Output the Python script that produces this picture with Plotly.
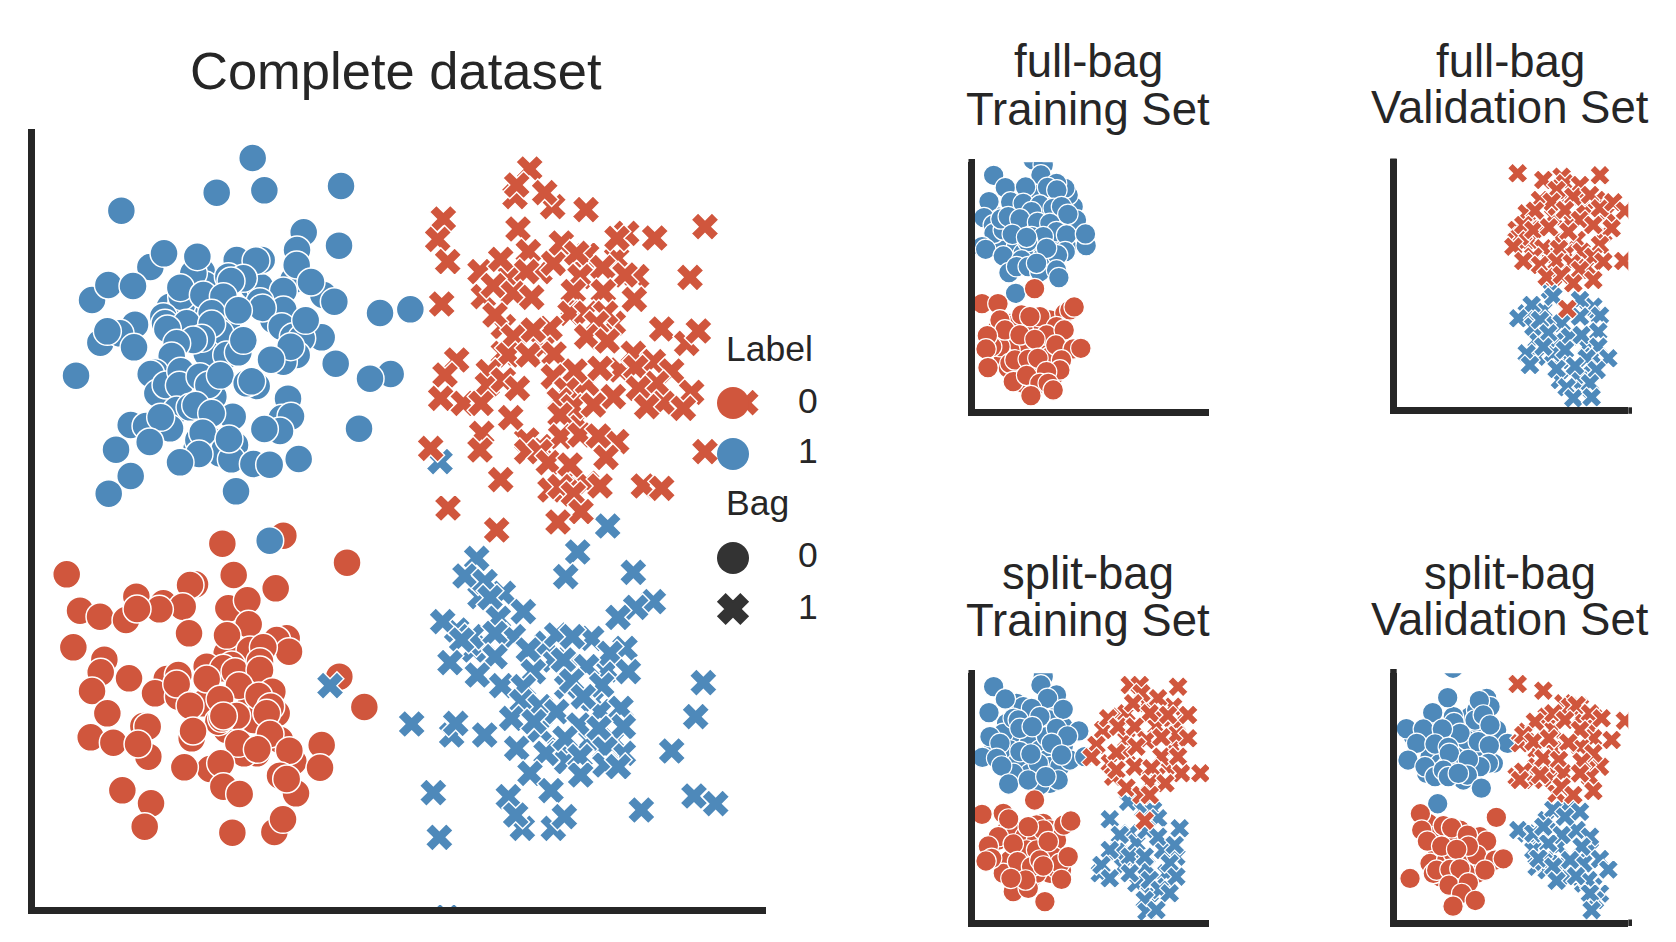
import plotly.graph_objects as go

WIDTH, HEIGHT = 1676, 942
RED, BLUE, DARK, SPINE, INK = "#D0563D", "#4E89BA", "#333333", "#262626", "#262626"

# Complete dataset, (feature 1, feature 2) per group; earlier rows are drawn underneath
main_blue_bag0 = [(600,500),(560,560),(620,620),(500,640),(600,640),(700,500),(760,600),(450,560),(720,500),(560,700),(480,850),(580,830),(570,960),(600,1000),
    (698,114),(590,218),(733,211),(963,198),(304,272),(851,337),(957,377),(831,390),
    (391,441),(432,400),(650,420),(725,420),(708,422),(545,455),(555,495),(520,460),(532,410),
    (216,540),(265,495),(339,498),(485,555),(485,530),(481,503),(625,470),(670,475),(633,483),
    (820,480),(830,435),(910,525),(873,486),(790,513),(943,545),(1080,579),(1171,568),
    (550,525),(610,530),(720,545),(790,570),(575,580),(727,564),(655,571),(430,590),(435,610),(500,610),(442,627),(575,612),
    (345,614),(241,668),(300,640),(262,634),(342,682),
    (785,620),(905,652),(820,650),(845,655),(857,601),(830,705),(790,725),(812,680),(753,719),
    (545,655),(520,660),(620,705),(655,697),(670,661),(470,670),(455,708),
    (168,767),(947,731),(1112,762),(1050,776),(405,758),(392,762),(412,820),(438,795),(482,754),(478,796),
    (540,770),(565,795),(601,766),(710,798),(680,790),(695,784),(804,836),(785,895),(813,889),(780,933),(733,927),(1017,926),
    (470,870),(510,862),(527,856),(638,890),(575,880),(332,915),(450,925),(378,918),(422,892),(389,966),(288,989),
    (530,985),(535,960),(548,938),(537,1002),(645,975),(634,1018),(627,957),(700,1032),(749,1034),(836,1017),(480,1027),(332,1068),(266,1121),(648,1114)]
main_red_bag0 = [(620,1600),(680,1640),(690,1760),(550,1750),(620,1830),(700,1800),(770,1780),(710,1900),(560,1640),(780,1860),
    (790,1247),(607,1271),(981,1328),(140,1363),(525,1393),(510,1395),(641,1365),(767,1405),
    (349,1430),(430,1450),(488,1460),(625,1465),(682,1441),(180,1472),(240,1490),(318,1500),(418,1468),(351,1467),
    (507,1540),(686,1513),(621,1546),(800,1555),(770,1560),(160,1582),(690,1590),(807,1595),(730,1582),
    (253,1619),(242,1657),(327,1675),(216,1713),(440,1677),(475,1665),(405,1720),(475,1730),(470,1692),(635,1635),(610,1645),(645,1655),(560,1677),(720,1625),(720,1650),(657,1697),(757,1715),(716,1728),(510,1757),(600,1738),
    (262,1780),(650,1788),(595,1805),(605,1795),(610,1788),(752,1760),(740,1780),(370,1818),(383,1820),(385,1910),(212,1852),(280,1868),(354,1872),(515,1855),(519,1833),
    (750,1842),(672,1900),(655,1870),(712,1888),(820,1925),(808,1892),(905,1875),(900,1943),(780,1967),(828,2020),(800,1977),(570,1947),(493,1942),(602,1930),(610,2000),(659,2022),
    (307,2011),(393,2050),(374,2120),(637,2138),(763,2136),(789,2098),
    (958,1670),(1033,1761)]
main_blue_extra = [(749,1262)]
main_blue_bag1 = [(1310,1530),(1360,1590),(1390,1570),(1650,1640),(1760,1650),(1600,1620),(1720,1740),(1740,1775),(1640,1700),(1560,1830),(1710,1860),(1620,1890),(1640,1925),(1780,1860),(1450,1420),(1380,1430),
    (1763,1218),(1673,1296),(1370,1315),(1637,1370),(1840,1357),(1335,1368),(1395,1385),(1410,1433),
    (1900,1445),(1847,1462),(1794,1492),(1435,1495),(1510,1475),(1268,1505),(1355,1550),(1325,1560),(1480,1550),(1425,1540),
    (1580,1570),(1525,1590),(1610,1545),(1715,1555),(1657,1550),(1815,1585),(1770,1600),(1425,1610),(1630,1620),(1290,1628),
    (1372,1665),(1540,1655),(1825,1655),(1700,1640),(1445,1697),(1655,1683),(1745,1695),(1510,1700),(1505,1745),(1560,1760),
    (1690,1730),(1610,1775),(1803,1765),(2050,1688),(2027,1790),(1475,1795),(1542,1805),(1677,1815),(1810,1820),(1737,1825),
    (1175,1812),(1295,1845),(1307,1810),(1394,1845),(1490,1885),(1578,1900),(1635,1855),(1680,1910),(1810,1900),(1755,1887),
    (1955,1893),(1755,1935),(1795,1940),(1530,1960),(1682,1965),(1593,2012),(1240,2018),(1465,2030),(1507,2125),(1487,2085),
    (1600,2125),(1633,2090),(1864,2070),(2022,2028),(2087,2051),(1258,2152),(1281,2391),(930,1697),(1260,1025)]
main_red_bag1 = [(1380,455),(1470,470),(1560,455),(1790,415),(1850,470),(1660,560),(1780,610),(1450,620),(1450,700),(1570,680),(1800,750),(1700,790),(1780,830),(1670,900),(1560,980),(1520,960),(1650,1080),(1700,1090),
    (1485,230),(1529,147),(1490,195),(1598,260),(1574,218),(1698,269),(2055,320),(1270,297),(1253,358),(1283,425),(1494,327),
    (1820,340),(1791,355),(1904,354),(1600,430),(1624,369),(1525,395),(1442,418),(1700,405),(1670,400),(1815,465),(1748,443),(1520,455),(1680,470),(2010,472),
    (1390,530),(1420,497),(1480,520),(1535,532),(1660,515),(1750,515),(1843,538),(1265,552),(1425,585),
    (1650,580),(1700,580),(1757,580),(1730,610),(1925,627),(2000,670),(2035,633),(1480,650),(1590,625),(1540,630),(1700,650),(1762,663),(1840,700),
    (1465,705),(1525,705),(1602,702),(1310,720),(1275,765),(1405,755),(1402,795),(1665,753),(1740,745),(1900,725),(1847,743),(1955,753),(1600,770),
    (1450,780),(1492,805),(1262,835),(1330,850),(1383,850),(1640,810),(1618,840),(1660,860),(1720,855),(1910,790),(1855,805),(2015,817),(1930,850),(1880,860),(1990,865),(1472,893),
    (1620,885),(1385,940),(1380,990),(1622,950),(1680,945),(1790,965),(1735,948),(1758,1012),(1232,985),(2055,995),(1520,995),(1560,995),(1585,1028),(1650,1035),(1442,1079),(1740,1098),(1590,1110),(1620,1100),(1660,1122),(1870,1098),(1925,1105),(1284,1164),(1683,1175),(1614,1206),(1430,1230),(2177,848)]

# full-bag training set: only bag 0
full_train_blue = [(200,140),(260,140),(300,140),(340,170),(160,190),(210,225),(250,200),(300,220),(340,240),(110,200),(130,280),(170,290),(230,280),(280,280),(320,290),(190,310),(250,320),(150,340),(270,340),(220,130),
    (220,30),(250,45),(243,75),(101,76),(136,113),(197,111),(325,135),(315,115),(290,100),(263,112),(291,120),(87,155),(152,156),(190,160),(240,165),(280,175),(305,170),(215,185),(72,203),(100,225),(102,250),(130,240),(123,207),(145,200),(180,207),(233,217),(350,210),(324,193),(157,253),(270,220),(290,245),(320,255),(379,287),(377,252),(215,260),(250,260),(203,275),(200,262),(66,290),(77,298),(316,305),(293,315),(260,295),(130,318),(185,330),(147,368),(170,350),(205,350),(240,365),(230,340),(290,360),(297,383),(167,430)]
full_train_red = [(150,520),(220,530),(270,510),(110,540),(200,600),(250,600),(150,600),(270,620),(230,660),(190,650),(130,620),(250,530),(170,520),(120,590),(280,680),(190,700),
    (224,416),(66,461),(114,461),(315,490),(330,480),(343,471),(120,510),(240,500),(185,495),(210,500),(290,530),(135,540),(180,555),(260,555),(313,540),(95,590),(82,557),(78,597),(288,585),(225,568),(340,597),(363,595),(305,630),(145,655),(150,640),(165,630),(205,628),(234,625),(84,653),(160,695),(300,660),(260,665),(200,676),(240,700),(265,700),(280,720),(213,737)]

# full-bag validation set: only bag 1
full_val_blue = [(490,480),(560,480),(620,480),(520,520),(470,570),(530,570),(620,590),(470,620),(540,630),(640,620),(610,670),(600,690),(540,690),(440,490),(640,470),
    (510,420),(520,440),(600,450),(455,465),(660,497),(415,505),(460,530),(480,510),(545,520),(600,500),(505,550),(570,560),(605,555),(655,545),(520,610),(490,590),(555,600),(655,590),(440,610),(620,625),(685,625),(450,645),(530,657),(585,648),(650,660),(605,720),(630,700),(560,712),(580,745),(635,742)]
full_val_red = [(480,150),(540,150),(610,170),(520,200),(650,150),(570,210),(450,270),(540,265),(590,270),(500,320),(560,310),(620,350),(470,225),(430,280),(680,190),(600,140),(520,380),(670,250),(530,170),(440,190),
    (413,70),(490,90),(660,76),(545,80),(555,100),(600,105),(530,120),(580,140),(630,135),(515,155),(660,175),(700,157),(735,182),(465,182),(555,180),(600,210),(410,240),(420,260),(430,225),(460,240),(507,232),(640,225),(565,245),(695,235),(400,290),(660,285),(490,295),(537,297),(605,305),(460,320),(640,320),(430,333),(480,345),(530,335),(575,340),(670,335),(730,333),(600,360),(500,380),(545,375),(640,390),(580,400),(562,477)]

# split-bag training set
split_train_blue0 = [(170,130),(190,140),(260,150),(290,130),(140,190),(270,180),(240,210),(200,240),(150,230),(130,220),(310,200),(310,260),(150,270),(240,270),(290,280),(260,300),(200,310),(170,310),(270,320),(300,320),(210,340),(160,340),(270,370),(100,270),(330,300),(260,230),
    (250,50),(243,75),(101,80),(290,105),(136,117),(263,115),(87,158),(310,148),(215,145),(240,170),(160,175),(175,180),(357,213),(90,230),(290,205),(323,228),(180,205),(217,200),(120,250),(275,250),(67,292),(110,295),(305,285),(125,318),(235,310),(180,275),(213,282),(146,372),(295,360),(240,375),(205,360),(258,350),(375,290)]
split_train_red0 = [(140,510),(170,510),(250,490),(270,510),(195,530),(230,540),(290,540),(115,540),(200,570),(260,590),(230,570),(150,600),(280,590),(190,620),(270,640),(220,650),(130,640),(305,630),(180,680),(230,640),
    (224,420),(66,463),(130,460),(146,477),(312,495),(333,483),(115,530),(230,495),(250,510),(205,500),(265,545),(160,552),(85,558),(95,595),(78,603),(290,625),(300,610),(325,590),(173,605),(215,620),(240,600),(250,618),(305,658),(160,695),(205,685),(197,660),(153,655),(255,725)]
split_train_blue1 = [(510,520),(480,580),(530,550),(610,570),(650,590),(620,640),(540,600),(490,620),(420,640),(560,620),(530,670),(620,680),(570,700),
    (505,425),(450,478),(550,450),(580,450),(595,475),(660,505),(560,510),(595,530),(645,555),(480,525),(470,575),(450,570),(510,590),(555,590),(425,615),(630,610),(510,640),(570,660),(650,650),(450,655),(600,690),(630,700),(555,720),(560,755),(590,750)]
split_train_red1 = [(480,170),(560,130),(610,180),(500,160),(640,140),(590,200),(430,210),(500,240),(640,260),(500,280),(450,310),(620,320),(460,350),(590,350),(650,190),
    (510,75),(540,75),(545,100),(655,80),(595,115),(520,130),(570,160),(625,165),(685,165),(445,175),(475,200),(525,200),(650,225),(560,240),(605,232),(685,235),(530,260),(410,255),(395,292),(470,278),(605,290),(655,290),(525,320),(470,330),(575,325),(665,340),(722,340),(570,370),(500,383),(617,370),(545,405),(570,405),(555,482)]

# split-bag validation set
split_val_blue0 = [(100,230),(120,240),(140,230),(160,220),(240,190),(280,200),(300,215),(340,225),(150,290),(180,310),(220,300),(250,260),(280,270),(300,290),(340,310),(240,310),(200,320),(170,340),(250,360),(270,170),(290,150),(220,170),(140,340),(260,240),(150,200),
    (219,25),(203,113),(320,115),(330,140),(298,122),(158,158),(285,180),(310,165),(222,188),(79,206),(130,207),(350,210),(240,220),(187,207),(330,195),(110,250),(165,252),(295,245),(383,250),(328,257),(205,262),(208,280),(84,300),(325,310),(300,320),(265,298),(135,320),(165,350),(190,330),(205,350),(262,345),(235,340),(304,384),(173,431)]
split_val_red0 = [(145,490),(240,510),(280,530),(160,530),(300,530),(210,530),(250,570),(170,590),(270,610),(290,640),(150,610),(240,660),(260,640),(310,610),(200,600),(180,650),(220,580),
    (121,461),(349,472),(125,510),(190,497),(215,503),(262,525),(142,543),(320,543),(185,558),(290,585),(265,558),(230,568),(345,600),(370,596),(90,655),(160,640),(170,630),(315,630),(210,628),(240,626),(207,675),(265,668),(245,700),(219,738),(286,721)]
split_val_blue1 = [(500,480),(565,450),(590,510),(480,540),(440,520),(535,560),(630,570),(460,570),(470,620),(540,610),(580,630),(610,610),(500,630),(570,650),(610,670),(640,680),(660,700),
    (520,448),(600,455),(555,470),(415,510),(460,520),(490,500),(545,525),(630,530),(505,550),(605,560),(490,605),(475,595),(570,600),(660,597),(520,620),(685,628),(530,662),(625,660),(588,648),(645,720),(630,700),(635,750)]
split_val_red1 = [(550,130),(600,140),(500,170),(600,175),(640,170),(520,210),(630,210),(440,215),(420,250),(640,235),(520,270),(600,260),(470,270),(660,320),(510,330),(620,330),(630,350),(520,360),(410,350),(460,360),(530,400),(470,320),
    (413,72),(490,92),(570,140),(590,135),(630,160),(520,160),(465,185),(665,175),(735,182),(555,180),(600,210),(430,225),(460,245),(507,235),(565,248),(695,240),(640,280),(490,295),(537,300),(605,305),(430,335),(420,360),(480,345),(550,340),(600,340),(545,380),(640,393),(580,405)]

legend_label_rows = [849, 1002]
legend_bag_rows = [1314, 1467]
legend_column = 2139


def px_x(v):
    return v / WIDTH


def px_y(v):
    return 1 - v / HEIGHT


def add_points(fig, pts, color, symbol, size, line, xa, ya):
    xs, ys = zip(*pts)
    fig.add_trace(go.Scatter(
        x=list(xs), y=list(ys), mode="markers", xaxis=xa, yaxis=ya, showlegend=False,
        marker=dict(color=color, symbol=symbol, size=size, line=dict(color="white", width=line)),
    ))


fig = go.Figure()

# Panel frames: plot-area pixel box plus the data window on each axis
panels = {
    "": dict(box=(34.7, 766, 129, 907), xr=(44, 2238), yr=(2361, 27), spine=(129, 766)),
    "2": dict(box=(975, 1209, 162.3, 409.3), xr=(45, 748), yr=(778, 37), spine=(159, 1209)),
    "3": dict(box=(1396.7, 1628.3, 159, 407.3), xr=(50, 745), yr=(772, 27), spine=(158.5, 1632)),
    "4": dict(box=(975, 1209, 673.3, 920), xr=(45, 748), yr=(780, 40), spine=(670, 1209)),
    "5": dict(box=(1396.7, 1628.3, 673.3, 919.5), xr=(50, 745), yr=(778, 40), spine=(669, 1632)),
}

C_SIZE, X_SIZE, LW, X_LW = 28, 24.5, 1.5, 1.4
SC_SIZE, SX_SIZE, SLW, SX_LW = 20.5, 18, 1.2, 1.2

add_points(fig, main_blue_bag0, BLUE, "circle", C_SIZE, LW, "x", "y")
add_points(fig, main_red_bag0, RED, "circle", C_SIZE, LW, "x", "y")
add_points(fig, main_blue_extra, BLUE, "circle", C_SIZE, LW, "x", "y")
add_points(fig, main_blue_bag1, BLUE, "x", X_SIZE, X_LW, "x", "y")
add_points(fig, main_red_bag1, RED, "x", X_SIZE, X_LW, "x", "y")

add_points(fig, full_train_blue, BLUE, "circle", SC_SIZE, SLW, "x2", "y2")
add_points(fig, full_train_red, RED, "circle", SC_SIZE, SLW, "x2", "y2")

add_points(fig, full_val_blue, BLUE, "x", SX_SIZE, SX_LW, "x3", "y3")
add_points(fig, full_val_red, RED, "x", SX_SIZE, SX_LW, "x3", "y3")

add_points(fig, split_train_blue0, BLUE, "circle", SC_SIZE, SLW, "x4", "y4")
add_points(fig, split_train_red0, RED, "circle", SC_SIZE, SLW, "x4", "y4")
add_points(fig, split_train_blue1, BLUE, "x", SX_SIZE, SX_LW, "x4", "y4")
add_points(fig, split_train_red1, RED, "x", SX_SIZE, SX_LW, "x4", "y4")

add_points(fig, split_val_blue0, BLUE, "circle", SC_SIZE, SLW, "x5", "y5")
add_points(fig, split_val_red0, RED, "circle", SC_SIZE, SLW, "x5", "y5")
add_points(fig, split_val_blue1, BLUE, "x", SX_SIZE, SX_LW, "x5", "y5")
add_points(fig, split_val_red1, RED, "x", SX_SIZE, SX_LW, "x5", "y5")

# Legend key markers sit inside the main axes, above the data
fig.add_trace(go.Scatter(x=[legend_column] * 2, y=legend_label_rows, mode="markers", showlegend=False,
                         marker=dict(color=[RED, BLUE], symbol="circle", size=32)))
fig.add_trace(go.Scatter(x=[legend_column], y=legend_bag_rows[:1], mode="markers", showlegend=False,
                         marker=dict(color=DARK, symbol="circle", size=32)))
fig.add_trace(go.Scatter(x=[legend_column], y=legend_bag_rows[1:], mode="markers", showlegend=False,
                         marker=dict(color=DARK, symbol="x", size=26, line=dict(color=DARK, width=2))))

layout = dict(width=WIDTH, height=HEIGHT, margin=dict(l=0, r=0, t=0, b=0), autosize=False,
              plot_bgcolor="white", paper_bgcolor="white", showlegend=False,
              font=dict(family="Liberation Sans", color=INK))

shapes = []
for key, p in panels.items():
    x0, x1, y0, y1 = p["box"]
    common = dict(showgrid=False, zeroline=False, showticklabels=False, ticks="",
                  showline=True, linecolor=SPINE, linewidth=7 if key == "" else 6.5, layer="above traces")
    layout["xaxis" + key] = dict(domain=[px_x(x0), px_x(x1)], range=list(p["xr"]),
                                 anchor="y" + key, **common)
    layout["yaxis" + key] = dict(domain=[px_y(y1), px_y(y0)], range=list(p["yr"]),
                                 anchor="x" + key, **common)
    spine_top, spine_right = p["spine"]
    lw = 7 if key == "" else 6.5
    # the frame lines run a little past the region where markers are clipped
    if spine_top < y0:
        shapes.append(dict(type="rect", xref="paper", yref="paper", line_width=0, fillcolor=SPINE,
                           x0=px_x(x0 - lw), x1=px_x(x0), y0=px_y(y0), y1=px_y(spine_top)))
    if spine_right > x1:
        shapes.append(dict(type="rect", xref="paper", yref="paper", line_width=0, fillcolor=SPINE,
                           x0=px_x(x1), x1=px_x(spine_right), y0=px_y(y1 + lw), y1=px_y(y1)))
layout["shapes"] = shapes


def label(text, x, y, size, anchor="center"):
    return dict(text=text, x=px_x(x), y=px_y(y), xref="paper", yref="paper", showarrow=False,
                xanchor=anchor, yanchor="middle", font=dict(size=size, family="Liberation Sans", color=INK))


TITLE, SUB, LEG = 52.5, 45.5, 35.5
layout["annotations"] = [
    label("Complete dataset", 395.5, 71, TITLE),
    label("full-bag", 1088, 62, SUB), label("Training Set", 1088, 110, SUB),
    label("full-bag", 1510, 62, SUB), label("Validation Set", 1510, 108, SUB),
    label("split-bag", 1088, 573, SUB), label("Training Set", 1088, 620, SUB),
    label("split-bag", 1510, 573, SUB), label("Validation Set", 1510, 619, SUB),
    label("Label", 724, 349, LEG, "left"), label("0", 808, 401, LEG), label("1", 808, 451, LEG),
    label("Bag", 724, 503, LEG, "left"), label("0", 808, 555, LEG), label("1", 808, 607, LEG),
]

fig.update_layout(**layout)
fig.write_html("out.html")
